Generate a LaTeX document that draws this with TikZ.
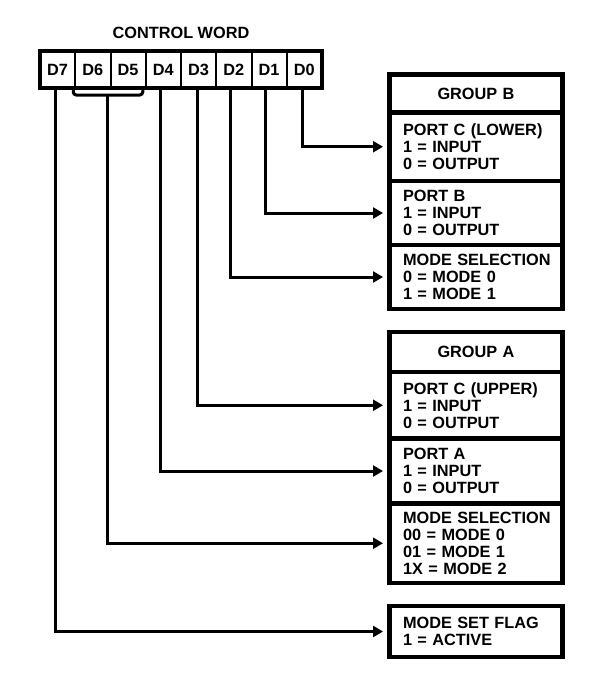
\documentclass[tikz,border=0pt]{standalone}
\usepackage{fontspec}
\setmainfont{Liberation Sans}
\usetikzlibrary{arrows.meta,calc}
\begin{document}
\begin{tikzpicture}[x=1pt,y=-1pt,
  txt/.style={font=\bfseries\fontsize{16.3}{17}\selectfont},
  cell/.style={draw,line width=2pt,minimum width=35.25pt,minimum height=37pt,
    outer sep=0pt,inner sep=0pt,anchor=north west,txt},
  rowbox/.style={draw,line width=4.5pt,outer sep=0pt,anchor=north west,
    text width=146pt,inner xsep=13.5pt,inner ysep=2pt,align=left,txt},
  headbox/.style={rowbox,align=center},
  conn/.style={line width=3pt},
  arr/.style={conn,-{Triangle[length=10pt,width=11pt]},shorten >=6.5pt}
]
\useasboundingbox (0,0) rectangle (604,677);

% control word
\node[txt] (title) at (181,33) {CONTROL WORD};
\node[cell] (D7) at (40,51) {D7};
\node[cell] (D6) at (75.25,51) {D6};
\node[cell] (D5) at (110.5,51) {D5};
\node[cell] (D4) at (145.75,51) {D4};
\node[cell] (D3) at (181,51) {D3};
\node[cell] (D2) at (216.25,51) {D2};
\node[cell] (D1) at (251.5,51) {D1};
\node[cell] (D0) at (286.75,51) {D0};
\draw[line width=3.5pt] (D7.north west) rectangle (D0.south east);

% group B
\node[headbox,minimum height=38pt] (gb) at (389.5,74.5) {GROUP B};
\node[rowbox,minimum height=68.5pt] (pcl) at (389.5,112.5) {PORT C (LOWER)\\1 = INPUT\\0 = OUTPUT};
\node[rowbox,minimum height=64pt] (pb) at (389.5,181) {PORT B\\1 = INPUT\\0 = OUTPUT};
\node[rowbox,minimum height=64pt] (msb) at (389.5,245) {\mbox{MODE SELECTION}\\0 = MODE 0\\1 = MODE 1};

% group A
\node[headbox,minimum height=40pt] (ga) at (389.5,332) {GROUP A};
\node[rowbox,minimum height=66.5pt] (pcu) at (389.5,372) {PORT C (UPPER)\\1 = INPUT\\0 = OUTPUT};
\node[rowbox,minimum height=65pt] (pa) at (389.5,438.5) {PORT A\\1 = INPUT\\0 = OUTPUT};
\node[rowbox,minimum height=79.5pt] (msa) at (389.5,503.5) {\mbox{MODE SELECTION}\\00 = MODE 0\\01 = MODE 1\\1X = MODE 2};

% mode set flag
\node[rowbox,minimum height=51pt] (flag) at (389.5,606) {MODE SET FLAG\\1 = ACTIVE};

% connectors
\draw[arr] ($(D0.south)+(-1.5,0)$) |- (pcl.west);
\draw[arr] ($(D1.south)+(-4,0)$) |- (pb.west);
\draw[arr] ($(D2.south)+(-3.5,0)$) |- (msb.west);
\draw[arr] ($(D3.south)+(-1.5,0)$) |- (pcu.west);
\draw[arr] ($(D4.south)+(-3,0)$) |- (pa.west);
\draw[conn,rounded corners=3pt] ($(D6.south west)+(-2,0)$) -- ++(0,7) -| ($(D5.south east)+(-3,0)$);
\coordinate (br) at ($(D6.south east)+(-3.5,7)$);
\draw[arr] (br) |- (msa.west);
\draw[arr] ($(D7.south)+(-2.5,0)$) |- (flag.west);
\end{tikzpicture}
\end{document}
